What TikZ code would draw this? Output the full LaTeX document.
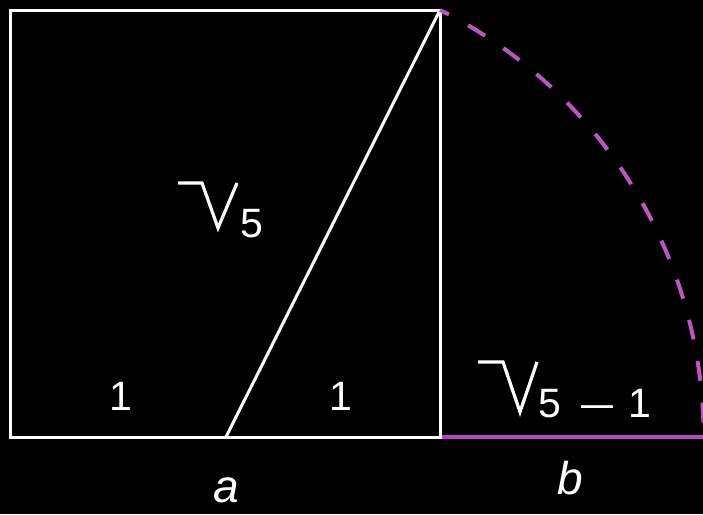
\documentclass[tikz,border=0pt]{standalone}
\usepackage{fontspec}
\setmainfont{Liberation Sans}
\definecolor{magline}{RGB}{180,70,190}
\definecolor{magdash}{RGB}{190,85,195}
\begin{document}
\begin{tikzpicture}[x=1pt,y=-1pt,
  wline/.style={white,line width=3pt},
  lbl/.style={text=white,inner sep=0pt,font=\fontsize{41}{48}\selectfont},
  ilbl/.style={text=white,inner sep=0pt,font=\fontsize{46}{54}\selectfont\itshape},
  rad/.style={white,line width=3.2pt,line join=miter}]
\fill[black] (0,0) rectangle (703,514);
\useasboundingbox (0,0) rectangle (703,514);
\coordinate (TL) at (10,10);
\coordinate (TR) at (440,10);
\coordinate (BR) at (440,437);
\coordinate (BL) at (10,437);
\coordinate (M) at (226,437);
\coordinate (E) at (704,437);
% magenta base segment b
\draw[magline,line width=4pt] (BR) -- (E);
% square
\draw[wline] (TL) -- (TR) -- (BR) -- (BL) -- cycle;
% diagonal
\draw[wline] (M) -- (TR);
% dashed arc
\draw[magdash,line width=4pt,dash pattern=on 20pt off 22pt,dash phase=10pt]
  (TR) arc[start angle=-63.38, end angle=0, radius=477.6];
% labels
\node[lbl] (one1) at (121,396) {1};
\node[lbl] (one2) at (341,396) {1};
\node[lbl,anchor=base west] (s5) at (240,237) {5};
\draw[rad] (178,183) -- (202,183) -- (218,228) -- (237,183);
\node[lbl,anchor=base west] (s51) at (538,417) {5\hspace{20pt}\scalebox{1.4}[1]{–}\hspace{16pt}1};
\draw[rad] (478,362) -- (503,362) -- (520,412) -- (537,362);
\node[ilbl,anchor=base] (a) at (226,502) {a};
\node[ilbl,anchor=base] (b) at (570,494) {b};
\end{tikzpicture}
\end{document}
